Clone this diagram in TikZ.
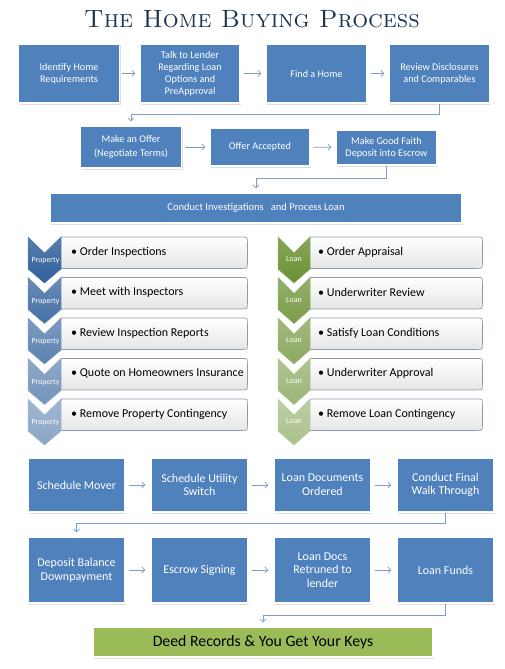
\documentclass[tikz,border=0pt]{standalone}
\usepackage{fontspec}
\setsansfont{Carlito}
\usetikzlibrary{arrows.meta,shadows,calc}
\definecolor{boxblue}{HTML}{4F81BD}
\definecolor{arrowc}{HTML}{7C9CCB}
\definecolor{titlec}{HTML}{1C3553}
\definecolor{deedg}{HTML}{9BBB59}
\definecolor{propc}{HTML}{2E5E9A}
\definecolor{loanc}{HTML}{6A9032}
\definecolor{pillline}{HTML}{8C9BB0}
\pgfdeclarelayer{background}
\pgfsetlayers{background,main}
\tikzset{
 bbox/.style={draw=white, line width=1.2pt, fill=boxblue, text=white,
   font=\sffamily\fontsize{10.2}{12}\selectfont, align=center, inner sep=2pt,
   drop shadow={shadow xshift=1.2pt, shadow yshift=-1.5pt, opacity=0.25}},
 bigbox/.style={bbox, font=\sffamily\fontsize{12}{13.7}\selectfont},
 deedbox/.style={bbox, fill=deedg, text=black, font=\sffamily\fontsize{15.8}{17}\selectfont},
 conn/.style={draw=arrowc, line width=0.8pt, -{Straight Barb[length=3pt,width=6pt]}},
 pillbox/.style={inner sep=0pt, minimum height=31pt},
 pilltext/.style={inner sep=0pt, anchor=west, font=\sffamily\fontsize{12}{13}\selectfont, text=black},
 pillshape/.style={draw=pillline, line width=0.7pt, top color=white, bottom color=black!10},
 chevtext/.style={text=white, font=\sffamily\fontsize{7.8}{8}\selectfont, inner sep=0pt},
}
\begin{document}
\begin{tikzpicture}[x=1pt,y=-1pt]
\useasboundingbox (0,0) rectangle (504,669);
\begin{pgfonlayer}{background}
\fill[white] (0,0) rectangle (504,669);
\end{pgfonlayer}
% title
\node[text=titlec, font=\fontsize{25}{25}\selectfont\scshape\addfontfeatures{LetterSpace=6}] (title) at (252,19) {The Home Buying Process};
% row 1
\node[bbox, minimum width=101pt, minimum height=59pt] (b1) at (69,73.5) {Identify Home\\Requirements};
\node[bbox, minimum width=100pt, minimum height=59pt] (b2) at (190,73.5) {Talk to Lender\\Regarding Loan\\Options and\\PreApproval};
\node[bbox, minimum width=101pt, minimum height=59pt] (b3) at (316.5,73.5) {Find a Home};
\node[bbox, minimum width=101pt, minimum height=59pt] (b4) at (439.5,73.5) {Review Disclosures\\and Comparables};
\draw[conn, shorten <=2pt, shorten >=4pt] (b1) -- (b2);
\draw[conn, shorten <=3pt, shorten >=4pt] (b2) -- (b3);
\draw[conn, shorten <=3pt, shorten >=4pt] (b3) -- (b4);
% row 2
\node[bbox, minimum width=101pt, minimum height=42pt] (b5) at (131,147) {Make an Offer\\[2pt](Negotiate Terms)};
\node[bbox, minimum width=100pt, minimum height=38pt] (b6) at (260,147) {Offer Accepted};
\node[bbox, minimum width=101pt, minimum height=35pt] (b7) at (386.5,147.5) {Make Good Faith\\Deposit into Escrow};
\draw[conn] (b4.south) -- ++(0,11) -| ([yshift=4pt]b5.north);
\draw[conn, shorten <=3pt, shorten >=4pt] (b5) -- (b6);
\draw[conn, shorten <=3pt, shorten >=4pt] (b6) -- (b7);
% wide box
\node[bbox, minimum width=412pt, minimum height=30pt, font=\sffamily\fontsize{10.5}{12}\selectfont] (wide) at (256,208) {Conduct Investigations\ \ \ and Process Loan};
\draw[conn] (b7.south) -- ++(0,13) -| ([yshift=4pt]wide.north);
% property column
\foreach \i/\txt in {0/Order Inspections,1/Meet with Inspectors,2/Review Inspection Reports,3/Quote on Homeowners Insurance,4/Remove Property Contingency}{
  \pgfmathsetmacro\t{237+40.5*\i}
  \pgfmathsetmacro\m{100-11*\i}
  \node[pillbox, minimum width=186pt, anchor=north west] (pp\i) at (61,\t) {};
  \node[pilltext] (pt\i) at ([xshift=10pt,yshift=0.5pt]pp\i.west) {\textbullet\ \txt};
  \begin{pgfonlayer}{background}
  \shade[pillshape] (pp\i.north west) -- ([xshift=-5pt]pp\i.north east) .. controls (pp\i.north east) .. ([yshift=-5pt]pp\i.north east) -- ([yshift=5pt]pp\i.south east) .. controls (pp\i.south east) .. ([xshift=-5pt]pp\i.south east) -- (pp\i.south west);
  \end{pgfonlayer}
  \shade[draw=propc!\m!white!80!white, line width=0.5pt, top color=propc!\m!white!80!white, bottom color=propc!\m!white] (28,\t) -- (44.5,{\t+16}) -- (61,\t) -- (61,{\t+32}) -- (44.5,{\t+46}) -- (28,{\t+32}) -- cycle;
  \node[chevtext] (pc\i) at (45.5,{\t+24}) {Property};
}
% loan column
\foreach \i/\txt in {0/Order Appraisal,1/Underwriter Review,2/Satisfy Loan Conditions,3/Underwriter Approval,4/Remove Loan Contingency}{
  \pgfmathsetmacro\t{237+40.5*\i}
  \pgfmathsetmacro\m{100-11*\i}
  \node[pillbox, minimum width=172pt, anchor=north west] (lp\i) at (310,\t) {};
  \node[pilltext] (lt\i) at ([xshift=8pt,yshift=0.5pt]lp\i.west) {\textbullet\ \txt};
  \begin{pgfonlayer}{background}
  \shade[pillshape] (lp\i.north west) -- ([xshift=-5pt]lp\i.north east) .. controls (lp\i.north east) .. ([yshift=-5pt]lp\i.north east) -- ([yshift=5pt]lp\i.south east) .. controls (lp\i.south east) .. ([xshift=-5pt]lp\i.south east) -- (lp\i.south west);
  \end{pgfonlayer}
  \shade[draw=loanc!\m!white!80!white, line width=0.5pt, top color=loanc!\m!white!80!white, bottom color=loanc!\m!white] (278,\t) -- (294,{\t+16}) -- (310,\t) -- (310,{\t+32}) -- (294,{\t+46}) -- (278,{\t+32}) -- cycle;
  \node[chevtext, font=\sffamily\fontsize{8}{8}\selectfont] (lc\i) at (294,{\t+22}) {Loan};
}
% bottom row A
\node[bigbox, minimum width=97pt, minimum height=54pt] (c1) at (76.5,485) {Schedule Mover};
\node[bigbox, minimum width=97pt, minimum height=54pt] (c2) at (199.5,485) {Schedule Utility\\Switch};
\node[bigbox, minimum width=97pt, minimum height=54pt] (c3) at (322.5,485) {Loan Documents\\Ordered};
\node[bigbox, minimum width=97pt, minimum height=54pt] (c4) at (445.5,485) {Conduct Final\\Walk Through};
\draw[conn, shorten <=3pt, shorten >=5pt] (c1) -- (c2);
\draw[conn, shorten <=3pt, shorten >=5pt] (c2) -- (c3);
\draw[conn, shorten <=3pt, shorten >=5pt] (c3) -- (c4);
% bottom row B
\node[bigbox, minimum width=97pt, minimum height=66pt] (d1) at (76.5,570) {Deposit Balance\\Downpayment};
\node[bigbox, minimum width=97pt, minimum height=66pt] (d2) at (199.5,570) {Escrow Signing};
\node[bigbox, minimum width=97pt, minimum height=66pt] (d3) at (322.5,570) {Loan Docs\\Retruned to\\lender};
\node[bigbox, minimum width=97pt, minimum height=66pt] (d4) at (445.5,570) {Loan Funds};
\draw[conn] (c4.south) -- ++(0,11) -| ([yshift=4pt]d1.north);
\draw[conn, shorten <=3pt, shorten >=5pt] (d1) -- (d2);
\draw[conn, shorten <=3pt, shorten >=5pt] (d2) -- (d3);
\draw[conn, shorten <=3pt, shorten >=5pt] (d3) -- (d4);
% deed
\node[deedbox, minimum width=340pt, minimum height=30pt] (deed) at (263,642) {Deed Records \& You Get Your Keys};
\draw[conn] (d4.south) -- ++(0,12) -| ([yshift=4pt]deed.north);
\end{tikzpicture}
\end{document}
